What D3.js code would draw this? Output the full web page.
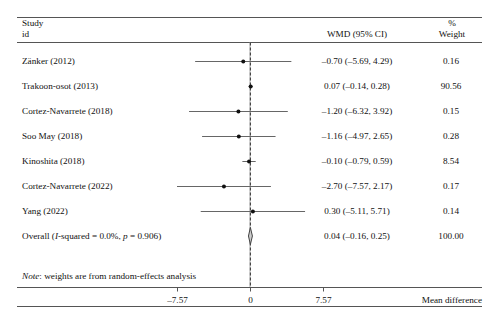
<!DOCTYPE html>
<html>
<head>
<meta charset="utf-8">
<script src="https://cdn.jsdelivr.net/npm/d3@7"></script>
<style>
  html, body { margin: 0; padding: 0; background: #fff; }
  svg text { font-family: "Liberation Serif", "DejaVu Serif", serif; font-size: 9.2px; fill: #111; }
</style>
</head>
<body>
<svg id="chart" width="500" height="324"></svg>
<script>
// Study-level results (weighted mean difference, 95% CI, % weight)
const studies = ["Zänker (2012)", "Trakoon-osot (2013)", "Cortez-Navarrete (2018)", "Soo May (2018)",
                 "Kinoshita (2018)", "Cortez-Navarrete (2022)", "Yang (2022)"];
const estimates = [-0.70, 0.07, -1.20, -1.16, -0.10, -2.70, 0.30];
const lower = [-5.69, -0.14, -6.32, -4.97, -0.79, -7.57, -5.11];
const upper = [4.29, 0.28, 3.92, 2.65, 0.59, 2.17, 5.71];
const weights = ["0.16", "90.56", "0.15", "0.28", "8.54", "0.17", "0.14"];

// Pooled estimate
const overallEst = 0.04;
const overallLo = -0.16;
const overallHi = 0.25;
const overallWeight = "100.00";

// Axis ticks
const tickValues = [-7.57, 0, 7.57];
const tickLabels = ["\u20137.57", "0", "7.57"];

const fmt = v => (v < 0 ? "\u2013" : "") + Math.abs(v).toFixed(2);
const ciText = (e, l, h) => `${fmt(e)} (${fmt(l)}, ${fmt(h)})`;

const svg = d3.select("#chart");
const left = 17, right = 482;
const x = d3.scaleLinear().domain([-7.57, 7.57]).range([177, 323]);
const y = d3.scaleLinear().domain([0, 7]).range([61, 236]);

const lineCol = "#666";
const frameCol = "#555";

// Header and frame rules
const hline = (yy, col) => svg.append("line").attr("x1", left).attr("x2", right)
  .attr("y1", yy).attr("y2", yy).attr("stroke", col).attr("stroke-width", 1);
hline(17.5, frameCol);
hline(42.5, frameCol);
hline(306.5, frameCol);

// Header text
svg.append("text").attr("x", 22).attr("y", 26).text("Study");
svg.append("text").attr("x", 22).attr("y", 37).text("id");
svg.append("text").attr("x", 357).attr("y", 37).attr("text-anchor", "middle").text("WMD (95% CI)");
svg.append("text").attr("x", 452).attr("y", 26).attr("text-anchor", "middle").text("%");
svg.append("text").attr("x", 452).attr("y", 37).attr("text-anchor", "middle").text("Weight");

// Null line and pooled-estimate dashed line
svg.append("line").attr("x1", x(0)).attr("x2", x(0)).attr("y1", 42.5).attr("y2", 287)
  .attr("stroke", "#aaa").attr("stroke-width", 1);
svg.append("line").attr("x1", x(overallEst)).attr("x2", x(overallEst)).attr("y1", 42.5).attr("y2", 287)
  .attr("stroke", "#333").attr("stroke-width", 1).attr("stroke-dasharray", "3,2");

// Study rows
const rows = studies.map((s, i) => ({ s, e: estimates[i], l: lower[i], h: upper[i], w: weights[i], i }));
const g = svg.append("g");
g.selectAll("line.ci").data(rows).join("line").attr("class", "ci")
  .attr("x1", d => x(d.l)).attr("x2", d => x(d.h))
  .attr("y1", d => y(d.i) + 0.5).attr("y2", d => y(d.i) + 0.5)
  .attr("stroke", lineCol).attr("stroke-width", 1);
g.selectAll("circle.pt").data(rows).join("circle").attr("class", "pt")
  .attr("cx", d => x(d.e)).attr("cy", d => y(d.i) + 0.5).attr("r", 2).attr("fill", "#111");
g.selectAll("text.study").data(rows).join("text").attr("class", "study")
  .attr("x", 22).attr("y", d => y(d.i) + 3).text(d => d.s);
g.selectAll("text.ci").data(rows).join("text").attr("class", "ci")
  .attr("x", 357).attr("y", d => y(d.i) + 3).attr("text-anchor", "middle")
  .text(d => ciText(d.e, d.l, d.h));
g.selectAll("text.wt").data(rows).join("text").attr("class", "wt")
  .attr("x", 451).attr("y", d => y(d.i) + 3).attr("text-anchor", "middle").text(d => d.w);

// Overall row
const yo = y(7);
const ov = svg.append("text").attr("x", 22).attr("y", yo + 3);
ov.append("tspan").text("Overall (");
ov.append("tspan").attr("font-style", "italic").text("I");
ov.append("tspan").text("-squared = 0.0%, ");
ov.append("tspan").attr("font-style", "italic").text("p");
ov.append("tspan").text(" = 0.906)");
svg.append("path")
  .attr("d", `M${x(overallLo)},${yo} L${x(overallEst)},${yo - 8.5} L${x(overallHi)},${yo} L${x(overallEst)},${yo + 8.5} Z`)
  .attr("fill", "#ccc").attr("stroke", "#444").attr("stroke-width", 1);
svg.append("text").attr("x", 357).attr("y", yo + 3).attr("text-anchor", "middle")
  .text(ciText(overallEst, overallLo, overallHi));
svg.append("text").attr("x", 451).attr("y", yo + 3).attr("text-anchor", "middle").text(overallWeight);

// Footnote
const note = svg.append("text").attr("x", 22).attr("y", 279);
note.append("tspan").attr("font-style", "italic").text("Note");
note.append("tspan").text(": weights are from random-effects analysis");

// Bottom axis
hline(287.5, frameCol);
const axis = svg.append("g").attr("transform", "translate(0,287.5)")
  .call(d3.axisBottom(x).tickValues(tickValues).tickSize(4).tickFormat((d, i) => tickLabels[i]));
axis.select(".domain").remove();
axis.selectAll(".tick line").attr("stroke", frameCol);
axis.selectAll(".tick text").attr("fill", "#111").attr("dy", "0").attr("y", 15.5)
  .style("font-family", '"Liberation Serif", "DejaVu Serif", serif').style("font-size", "9.2px");
svg.append("text").attr("x", right).attr("y", 303).attr("text-anchor", "end").text("Mean difference");
</script>
</body>
</html>
